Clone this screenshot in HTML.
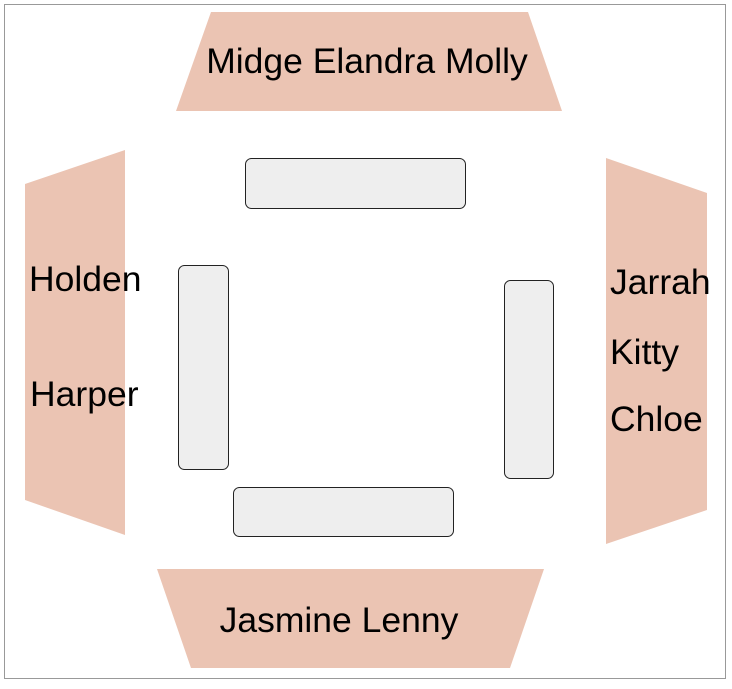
<!DOCTYPE html>
<html><head><meta charset="utf-8"><style>body{margin:0;background:#fff}</style></head>
<body>
<svg width="732" height="684" xmlns="http://www.w3.org/2000/svg" font-family="Liberation Sans, sans-serif" font-size="35.5">
<rect x="4.5" y="4.5" width="721" height="674" fill="#fff" stroke="#999" stroke-width="1"/>
<g fill="#ebc4b3">
<polygon points="211,12 528,12 562,111 176,111"/>
<polygon points="25,184 125,150 125,535 25,500"/>
<polygon points="606,158 707,193 707,510 606,544"/>
<polygon points="157,569 544,569 510,668 191,668"/>
</g>
<g fill="#eeeeee" stroke="#222" stroke-width="1">
<rect x="245.5" y="158.5" width="220" height="50" rx="6"/>
<rect x="178.5" y="265.5" width="50" height="204" rx="6"/>
<rect x="504.5" y="280.5" width="49" height="198" rx="6"/>
<rect x="233.5" y="487.5" width="220" height="49" rx="6"/>
</g>
<g fill="#000">
<text x="367" y="73" text-anchor="middle">Midge Elandra Molly</text>
<text x="29" y="291">Holden</text>
<text x="30" y="406">Harper</text>
<text x="610" y="294">Jarrah</text>
<text x="610" y="364">Kitty</text>
<text x="610" y="431">Chloe</text>
<text x="339" y="632" text-anchor="middle">Jasmine Lenny</text>
</g>
</svg>
</body></html>
